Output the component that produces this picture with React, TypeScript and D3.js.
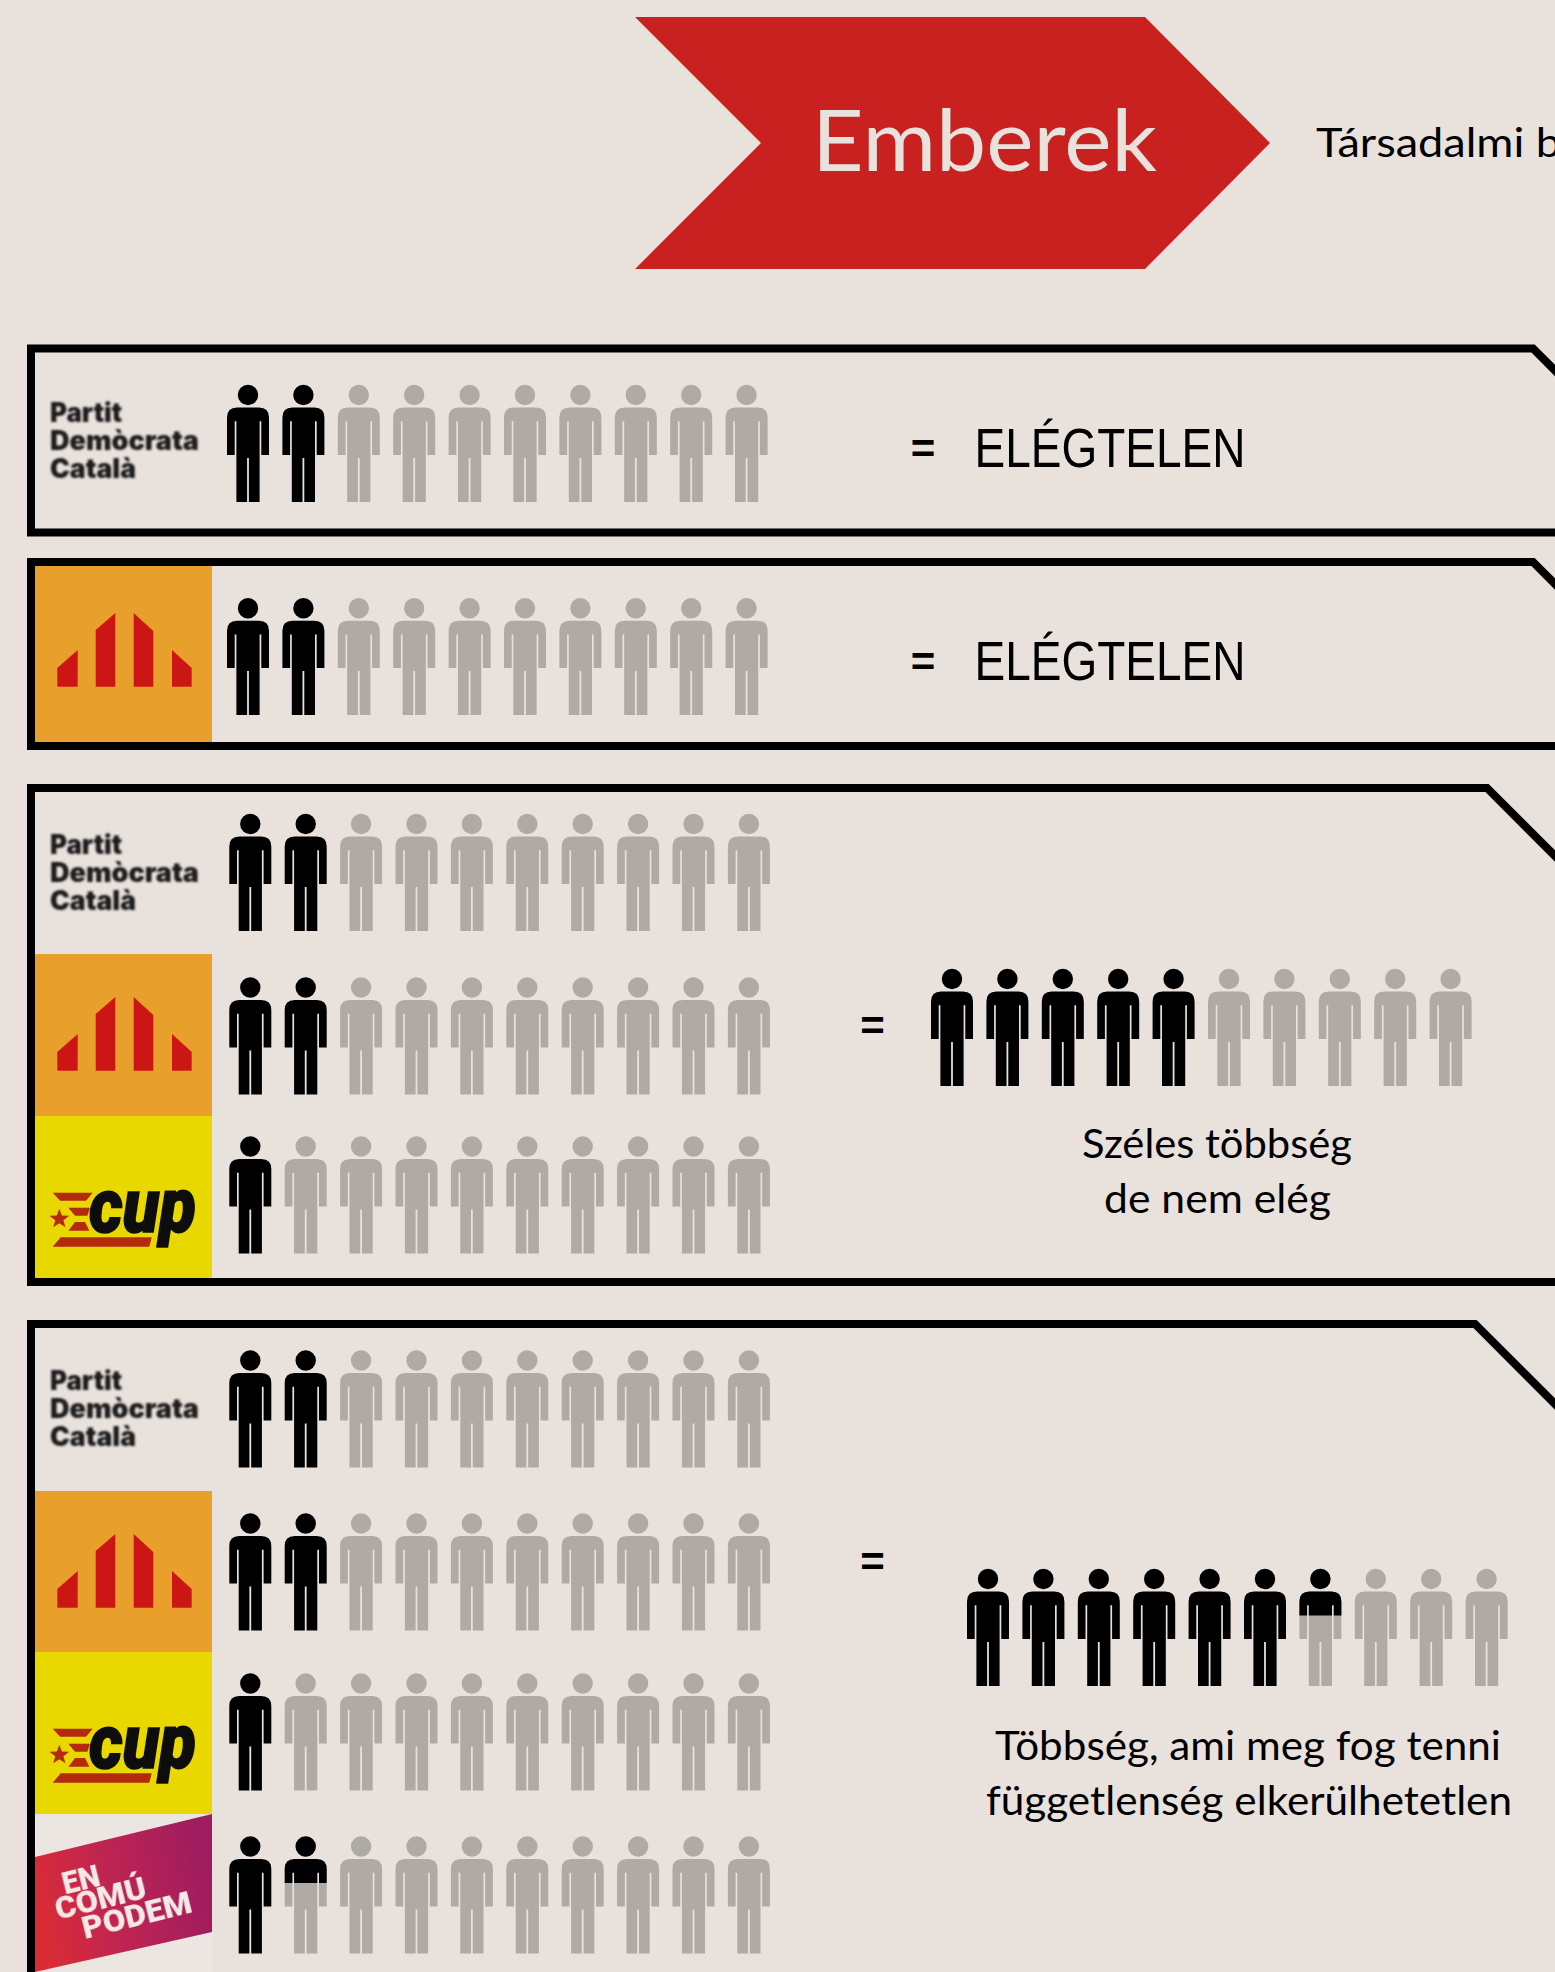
import React from "react";
import * as d3 from "d3";

// ---------- data ----------
const partyKeys = ["pdc", "erc", "cup", "ecp"];
const partyValues = [2, 2, 1, 1.4];
const coalitionMembers = [[0], [1], [0, 1, 2], [0, 1, 2, 3]];
const coalitionTotals = [null, null, 5, 6.4];
const peopleCount = d3.range(10);
const verdictText = "ELÉGTELEN";
const coalitionCaptions = [
  [],
  [],
  ["Széles többség", "de nem elég"],
  ["Többség, ami meg fog tenni", "függetlenség elkerülhetetlen"],
];
const titleText = "Emberek";
const sideText = "Társadalmi b";

// ---------- layout ----------
const W = 1555, H = 1972;
const BG = "#E8E1DC", GREY = "#AFAAA5", INK = "#000";
const CAL = "Lato, sans-serif";
const personH = 117.4;
const pitch = 55.4;
const boxes = [
  { top: 348.5, bottom: 532.5, corner: 1533, rows: [384.5], logos: [[352, 528]], cx: 248 },
  { top: 562, bottom: 746, corner: 1533, rows: [597.7], logos: [[566, 742]], cx: 248 },
  { top: 788, bottom: 1282, corner: 1487, rows: [813.5, 977, 1136], logos: [[792, 954], [954, 1116], [1116, 1278]], cx: 250.3 },
  { top: 1324, bottom: 2100, corner: 1475, rows: [1350, 1513, 1673, 1836], logos: [[1328, 1491], [1491, 1652], [1652, 1814], [1814, 1990]], cx: 250.3 },
];
const equalsPos = [[923, 463], [923, 676], [872.5, 1040], [872.5, 1576]];
const resultPos = [null, null, [952, 968.5], [988, 1568.5]];
const captionPos = [
  [],
  [],
  [{ x: 1082, y: 1158, w: 270 }, { x: 1104, y: 1212.5, w: 227 }],
  [{ x: 995, y: 1759.5, w: 506 }, { x: 986, y: 1814.5, w: 526 }],
];

function personPath(cx: number, y: number) {
  const p = d3.path();
  p.moveTo(cx - 21, y + 70.4);
  p.lineTo(cx - 21, y + 33);
  p.quadraticCurveTo(cx - 21, y + 23, cx - 11, y + 23);
  p.lineTo(cx + 11, y + 23);
  p.quadraticCurveTo(cx + 21, y + 23, cx + 21, y + 33);
  p.lineTo(cx + 21, y + 70.4);
  p.lineTo(cx + 13.3, y + 70.4);
  p.lineTo(cx + 13.3, y + 36.7);
  p.lineTo(cx + 11.6, y + 36.7);
  p.lineTo(cx + 11.6, y + personH);
  p.lineTo(cx + 0.9, y + personH);
  p.lineTo(cx + 0.9, y + 73.4);
  p.lineTo(cx - 0.9, y + 73.4);
  p.lineTo(cx - 0.9, y + personH);
  p.lineTo(cx - 11.6, y + personH);
  p.lineTo(cx - 11.6, y + 36.7);
  p.lineTo(cx - 13.3, y + 36.7);
  p.lineTo(cx - 13.3, y + 70.4);
  p.closePath();
  p.moveTo(cx + 10.2, y + 10.5);
  p.arc(cx, y + 10.5, 10.2, 0, Math.PI * 2);
  return p.toString();
}

let clipSeq = 0;
function PeopleRow({ value, cx0, top }: { value: number; cx0: number; top: number }) {
  const x = d3.scaleLinear().domain([0, 9]).range([cx0, cx0 + 9 * pitch]);
  const fillH = d3.scaleLinear().domain([0, 1]).range([0, personH]);
  return (
    <g>
      {peopleCount.map((i) => {
        const f = Math.max(0, Math.min(1, value - i));
        const d = personPath(x(i), top);
        const id = `fillclip-${clipSeq++}`;
        return (
          <g key={i}>
            <path d={d} fill={f >= 1 ? INK : GREY} />
            {f > 0 && f < 1 && (
              <>
                <clipPath id={id}>
                  <rect x={x(i) - 25} y={top - 1} width={50} height={fillH(f) + 1} />
                </clipPath>
                <path d={d} fill={INK} clipPath={`url(#${id})`} />
              </>
            )}
          </g>
        );
      })}
    </g>
  );
}

function PdcLogo({ y0 }: { y0: number }) {
  const lines = [
    { t: "Partit", y: 0, w: 72 },
    { t: "Demòcrata", y: 27.8, w: 149 },
    { t: "Català", y: 55.6, w: 86 },
  ];
  return (
    <text filter="url(#softer)" fontFamily="Inter, sans-serif" fontWeight={900} fontSize={26.5} fill="#1E1E1E">
      {lines.map((l) => (
        <tspan key={l.t} x={50} y={y0 + l.y} textLength={l.w} lengthAdjust="spacingAndGlyphs">{l.t}</tspan>
      ))}
    </text>
  );
}

function ErcLogo({ y0, y1, offset }: { y0: number; y1: number; offset: number }) {
  const bars = [
    [[57.3, 102], [77.7, 84]],
    [[95.7, 64], [115.3, 47]],
    [[133.7, 47], [153.3, 65]],
    [[172, 84], [191.7, 102]],
  ];
  const bottom = 120.7;
  const line = d3.line();
  return (
    <g>
      <rect x={35} y={y0} width={177} height={y1 - y0} fill="#E99F2B" />
      <g filter="url(#soft)">
        {bars.map((b, i) => (
          <path key={i} fill="#CC1714" d={line([
            [b[0][0], offset + bottom], [b[0][0], offset + b[0][1]], [b[1][0], offset + b[1][1]], [b[1][0], offset + bottom],
          ] as any) + "Z"} />
        ))}
      </g>
    </g>
  );
}

function CupLogo({ y0, y1 }: { y0: number; y1: number }) {
  const r = "#B42A10";
  const line = d3.line();
  const P = (pts: number[][]) => line(pts.map(([a, b]) => [a / 3, y0 - 16 + b / 3]) as any) + "Z";
  const star = d3.range(10).map((i) => {
    const a = -Math.PI / 2 + (i * Math.PI) / 5;
    const rad = i % 2 ? 13 : 31;
    return [178 + rad * Math.cos(a), 357 + rad * Math.sin(a)];
  });
  return (
    <g>
      <rect x={35} y={y0} width={177} height={y1 - y0} fill="#E8D800" />
      <g filter="url(#soft)">
        <path fill={r} d={P([[158, 278], [278, 278], [258, 302], [180, 302]])} />
        <path fill={r} d={P([[205, 323], [270, 323], [262, 347], [225, 347]])} />
        <path fill={r} d={P([[225, 366], [255, 366], [268, 392], [205, 392]])} />
        <path fill={r} d={P([[182, 412], [455, 412], [448, 440], [158, 440]])} />
        <path fill={r} d={P(star)} />
        <text x={89} y={y0 + 116} fontFamily="Roboto, sans-serif" fontWeight={900} fontStyle="italic" fontSize={76}
          fill="#111" stroke="#111" strokeWidth={1.6} textLength={107} lengthAdjust="spacingAndGlyphs">cup</text>
      </g>
    </g>
  );
}

function EcpLogo({ y0 }: { y0: number }) {
  const line = d3.line();
  const band = line([[35, y0 + 43], [212, y0], [212, y0 + 118], [35, y0 + 158]] as any) + "Z";
  const words = [
    { t: "EN", x: 71, y: 1896.5, w: 38 },
    { t: "COMÚ", x: 58, y: 1920, w: 93 },
    { t: "PODEM", x: 79.6, y: 1944.9, w: 112 },
  ];
  return (
    <g>
      <rect x={35} y={y0} width={177} height={H - y0} fill="#EBE6E2" />
      <path d={band} fill="url(#ecpGrad)" />
      <text filter="url(#soft)" transform="rotate(-14 58 1920)" fontFamily="Roboto, sans-serif"
        fontWeight={900} fontSize={32} fill="#F3E9E6">
        {words.map((w) => (
          <tspan key={w.t} x={w.x} y={w.y} textLength={w.w} lengthAdjust="spacingAndGlyphs">{w.t}</tspan>
        ))}
      </text>
    </g>
  );
}

export default function App() {
  clipSeq = 0;
  const frame = d3.line();
  const banner = d3.line()([[635, 17], [1145, 17], [1270, 143], [1145, 269], [635, 269], [761, 143]] as any) + "Z";
  return (
    <svg width={W} height={H} viewBox={`0 0 ${W} ${H}`} style={{ position: "absolute", left: 0, top: 0, display: "block" }}>
      <defs>
        <filter id="soft" x="-10%" y="-10%" width="120%" height="120%">
          <feGaussianBlur stdDeviation="0.7" />
        </filter>
        <filter id="softer" x="-10%" y="-10%" width="120%" height="120%">
          <feGaussianBlur stdDeviation="0.9" />
        </filter>
        <linearGradient id="ecpGrad" x1="0" x2="1" y1="0.6" y2="0.4">
          <stop offset="0" stopColor="#DA2C35" />
          <stop offset="0.45" stopColor="#BE2452" />
          <stop offset="1" stopColor="#9E1C60" />
        </linearGradient>
      </defs>
      <rect width={W} height={H} fill={BG} />
      <path d={banner} fill="#C8211F" />
      <text x={812} y={171} fontFamily={CAL} fontSize={86} fill="#E8E1DC" textLength={345} lengthAdjust="spacingAndGlyphs">{titleText}</text>
      <text x={1316} y={157} fontFamily={CAL} fontSize={41} fill={INK} textLength={245} lengthAdjust="spacingAndGlyphs">{sideText}</text>

      {boxes.map((b, bi) => (
        <g key={bi}>
          {coalitionMembers[bi].map((party, ri) => {
            const [y0, y1] = b.logos[ri];
            const key = partyKeys[party];
            return (
              <g key={ri}>
                {key === "pdc" && <PdcLogo y0={bi === 0 ? 422 : y0 + 62} />}
                {key === "erc" && <ErcLogo y0={y0} y1={y1} offset={bi === 1 ? y0 : y0 - 4} />}
                {key === "cup" && <CupLogo y0={y0} y1={y1} />}
                {key === "ecp" && <EcpLogo y0={y0} />}
                <PeopleRow value={partyValues[party]} cx0={b.cx} top={b.rows[ri]} />
              </g>
            );
          })}
          <path
            d={frame([[1600, b.bottom], [31, b.bottom], [31, b.top], [b.corner, b.top], [b.corner + 90, b.top + 90]] as any) as string}
            fill="none" stroke={INK} strokeWidth={8} strokeLinejoin="miter"
          />
          <text x={equalsPos[bi][0]} y={equalsPos[bi][1]} textAnchor="middle" fontFamily="Liberation Sans, sans-serif" fontWeight={700} fontSize={42} fill={INK}>=</text>
          {coalitionTotals[bi] === null ? (
            <text x={974.5} y={bi === 1 ? 680 : 467} fontFamily="Liberation Sans, sans-serif" fontSize={56} fill={INK}
              textLength={271} lengthAdjust="spacingAndGlyphs">{verdictText}</text>
          ) : (
            <PeopleRow value={coalitionTotals[bi] as number} cx0={resultPos[bi]![0]} top={resultPos[bi]![1]} />
          )}
          {coalitionCaptions[bi].map((c, i) => (
            <text key={c} x={captionPos[bi][i].x} y={captionPos[bi][i].y} fontFamily={CAL} fontSize={41} fill={INK}
              textLength={captionPos[bi][i].w} lengthAdjust="spacingAndGlyphs">{c}</text>
          ))}
        </g>
      ))}
    </svg>
  );
}
